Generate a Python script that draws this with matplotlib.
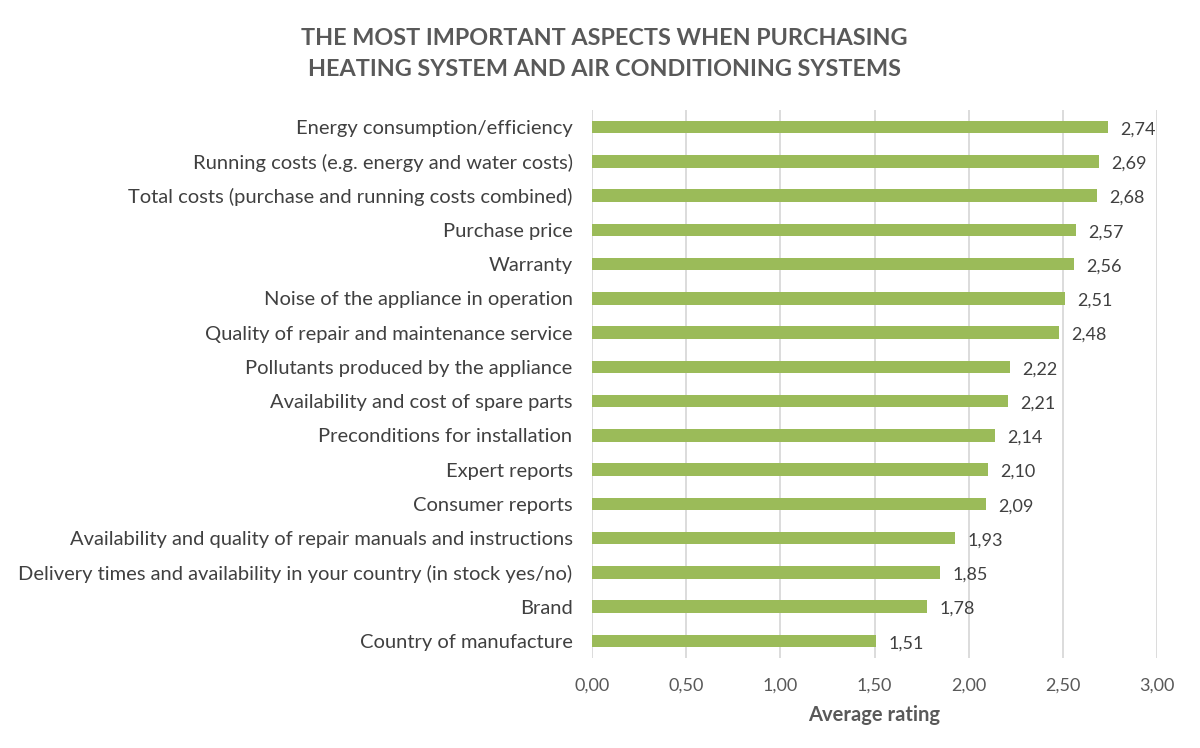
import matplotlib
matplotlib.use("Agg")
import matplotlib.pyplot as plt

categories = [
    "Energy consumption/efficiency",
    "Running costs (e.g. energy and water costs)",
    "Total costs (purchase and running costs combined)",
    "Purchase price",
    "Warranty",
    "Noise of the appliance in operation",
    "Quality of repair and maintenance service",
    "Pollutants produced by the appliance",
    "Availability and cost of spare parts",
    "Preconditions for installation",
    "Expert reports",
    "Consumer reports",
    "Availability and quality of repair manuals and instructions",
    "Delivery times and availability in your country (in stock yes/no)",
    "Brand",
    "Country of manufacture",
]
values = [2.74, 2.69, 2.68, 2.57, 2.56, 2.51, 2.48, 2.22, 2.21, 2.14, 2.10, 2.09, 1.93, 1.85, 1.78, 1.51]
xticks = [0.0, 0.5, 1.0, 1.5, 2.0, 2.5, 3.0]
xtick_labels = ["0,00", "0,50", "1,00", "1,50", "2,00", "2,50", "3,00"]

plt.rcParams['font.family'] = ['Lato', 'DejaVu Sans']

fig = plt.figure(figsize=(12, 7.48), dpi=100)
ax = fig.add_axes([592/1200, 1-658/748, (1157-592)/1200, (658-110)/748])

n = len(categories)
ypos = list(range(n))
ax.barh(ypos, values, height=0.36, color="#9BBB59", zorder=3)
ax.set_ylim(n - 0.5, -0.5)
ax.set_xlim(0, 3)
ax.set_yticks(ypos)
ax.set_yticklabels(categories, fontsize=14.5, color="#404040")
ax.set_xticks(xticks)
ax.set_xticklabels(xtick_labels, fontsize=13, color="#595959")
ax.tick_params(axis='both', length=0)
ax.tick_params(axis='y', pad=14)
ax.tick_params(axis='x', pad=14)
ax.grid(axis='x', color="#D9D9D9", linewidth=1.3, zorder=0)
for s in ax.spines.values():
    s.set_visible(False)

for y, v in zip(ypos, values):
    ax.text(v + 0.065, y + 0.07, f"{v:.2f}".replace(".", ","), va='center', ha='left',
            fontsize=13, color="#404040")

ax.set_xlabel("Average rating", fontsize=14.5, fontweight='bold', color="#595959", labelpad=8)

fig.text(604/1200, 1-54/748, "THE MOST IMPORTANT ASPECTS WHEN PURCHASING\nHEATING SYSTEM AND AIR CONDITIONING SYSTEMS",
         ha='center', va='center', fontsize=16.8, fontweight='bold', color="#595959", linespacing=1.55)

fig.savefig("out.png", dpi=100)
